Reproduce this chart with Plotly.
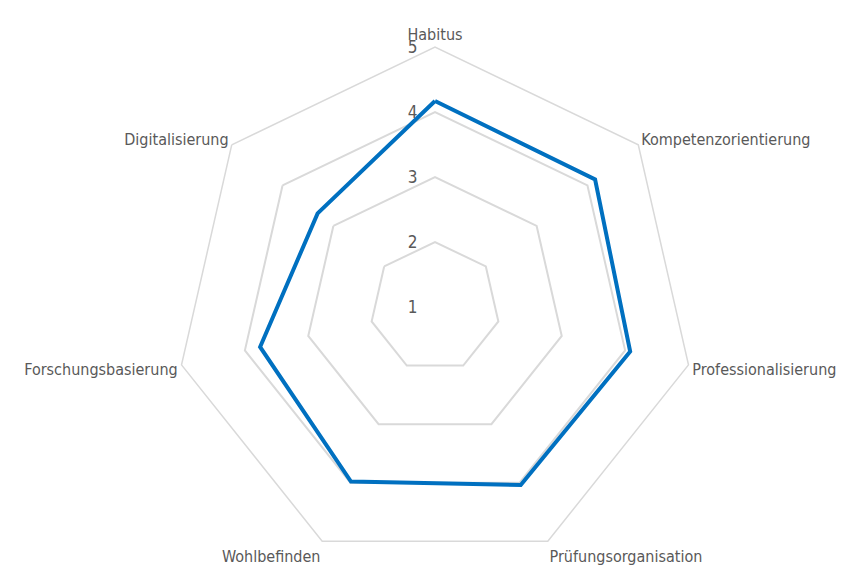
import plotly.graph_objects as go

categories = ["Habitus", "Kompetenzorientierung", "Professionalisierung",
              "Prüfungsorganisation", "Wohlbefinden", "Forschungsbasierung",
              "Digitalisierung"]
values = [4.17, 4.15, 4.08, 4.04, 3.98, 3.76, 3.31]
radial_ticks = [1, 2, 3, 4, 5]

FONT = "DejaVu Sans Condensed, Arial Narrow, Liberation Sans, sans-serif"
NBSP_PAD = "\u00a0" * 3  # keeps the tick digit a little left of the axis

fig = go.Figure()
fig.add_trace(go.Scatterpolar(
    r=values + values[:1],
    theta=categories + categories[:1],
    mode="lines",
    line=dict(color="#0070C0", width=4),
    showlegend=False,
    hoverinfo="skip",
))

fig.update_layout(
    width=854, height=565,
    paper_bgcolor="white",
    margin=dict(l=0, r=0, t=39, b=6),
    font=dict(family=FONT, size=16, color="#595959"),
    polar=dict(
        bgcolor="white",
        gridshape="linear",
        radialaxis=dict(
            range=[1, 5],
            tickvals=radial_ticks,
            ticktext=[str(v) + NBSP_PAD for v in radial_ticks],
            angle=90,
            tickangle=90,
            side="counterclockwise",
            showline=False,
            ticks="",
            gridcolor="#D9D9D9",
            gridwidth=1.5,
            tickfont=dict(family=FONT, size=17, color="#595959"),
        ),
        angularaxis=dict(
            rotation=90,
            direction="clockwise",
            showgrid=False,
            showline=True,
            linecolor="#D9D9D9",
            linewidth=1.5,
            ticks="",
            tickfont=dict(family=FONT, size=16, color="#595959"),
        ),
    ),
)

fig.write_html("out.html")
